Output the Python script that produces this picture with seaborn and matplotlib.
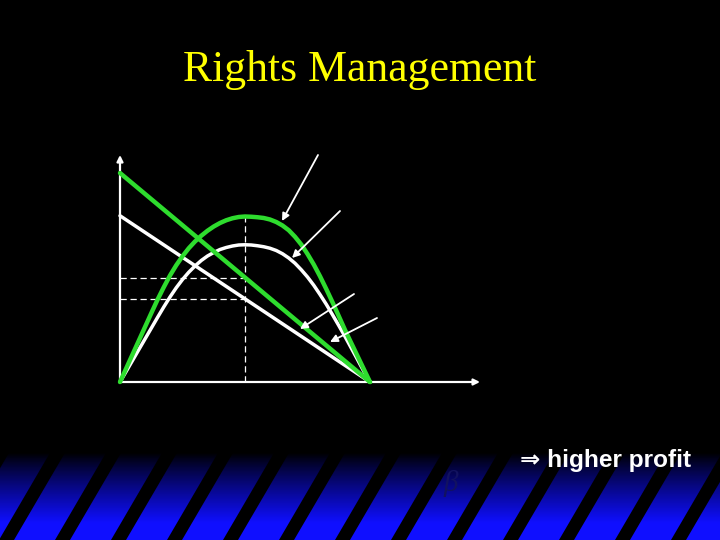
import matplotlib
matplotlib.use('Agg')
import matplotlib.pyplot as plt
import numpy as np
import pandas as pd
import seaborn as sns
from matplotlib.patches import Polygon

# quantity axis and the two profit curves (chart units)
q = [0, 0.25, 0.5, 0.75, 1, 1.25, 1.5, 1.75, 2, 2.25, 2.5, 2.75, 3, 3.25, 3.5, 3.75,
     4, 4.25, 4.5, 4.75, 5, 5.25, 5.5, 5.75, 6, 6.25, 6.5, 6.75, 7, 7.25, 7.5, 7.75,
     8, 8.25, 8.5, 8.75, 9, 9.25, 9.5, 9.75, 10]
profit_green = [0, 0.55, 1.10, 1.65, 2.20, 2.75, 3.29, 3.79, 4.26, 4.67, 5.03, 5.35, 5.62,
                5.85, 6.05, 6.22, 6.36, 6.47, 6.55, 6.60, 6.62, 6.61, 6.59, 6.56, 6.50, 6.40,
                6.26, 6.07, 5.81, 5.50, 5.12, 4.70, 4.23, 3.72, 3.19, 2.64, 2.08, 1.56, 1.04,
                0.52, 0]
profit_white = [0, 0.43, 0.86, 1.29, 1.72, 2.15, 2.58, 3.00, 3.40, 3.77, 4.10, 4.39, 4.64,
                4.86, 5.04, 5.18, 5.30, 5.38, 5.44, 5.48, 5.49, 5.48, 5.45, 5.41, 5.35, 5.26,
                5.13, 4.96, 4.75, 4.49, 4.20, 3.87, 3.50, 3.11, 2.69, 2.26, 1.82, 1.36, 0.90,
                0.43, 0]

# straight demand lines
demand_q = [0, 10]
demand_green = [8.36, 0]
demand_white = [6.65, 0]

# optimum and the matching price levels
q_star = 5.0
price_green = 4.18
price_white = 3.33
peak_green = 6.64

# axis extents
x_axis_end = 14.4
y_axis_end = 9.08

# pointer arrows (tail -> head)
arrow_x0 = [7.92, 8.8, 9.36, 10.28]
arrow_y0 = [9.08, 6.84, 3.52, 2.56]
arrow_x1 = [6.48, 6.88, 7.2, 8.4]
arrow_y1 = [6.44, 4.96, 2.12, 1.6]

title = 'Rights Management'
note = '\u21d2 higher profit'

GREEN = '#2edc2e'

sns.set_style('dark')
plt.rcParams['font.family'] = ['Liberation Sans', 'DejaVu Sans']

fig = plt.figure(figsize=(7.2, 5.4), dpi=100, facecolor='black')

# background: black with a blue striped band at the bottom
bg = fig.add_axes([0, 0, 1, 1], zorder=0)
bg.set_xlim(0, 720)
bg.set_ylim(540, 0)
bg.axis('off')
yy = np.linspace(450, 540, 200)
t = np.clip((yy - 453) / 70.0, 0, 1)
grad = np.zeros((len(yy), 2, 3))
grad[:, :, 2] = (t ** 0.9)[:, None]
grad[:, :, 0] = (0.06 * t)[:, None]
grad[:, :, 1] = (0.06 * t)[:, None]
bg.imshow(grad, extent=(0, 720, 540, 450), aspect='auto', interpolation='bilinear')
for k in range(-1, 15):
    xb = -1 + 56 * k      # left edge at the bottom of the band
    shift = 90 * 0.585
    pts = [(xb + shift, 450), (xb + 15 + shift, 450), (xb + 15, 540), (xb, 540)]
    bg.add_patch(Polygon(pts, closed=True, facecolor='black', edgecolor='none'))

# main chart in chart units
ax = fig.add_axes([0, 0, 1, 1], zorder=1)
ax.set_xlim(-4.8, 24)
ax.set_ylim(-6.32, 15.28)

# axes with arrow heads
ax.annotate('', xy=(x_axis_end, 0), xytext=(0, 0),
            arrowprops=dict(arrowstyle='-|>', color='white', lw=1.6, mutation_scale=9,
                            shrinkA=0, shrinkB=0))
ax.annotate('', xy=(0, y_axis_end), xytext=(0, 0),
            arrowprops=dict(arrowstyle='-|>', color='white', lw=1.6, mutation_scale=9,
                            shrinkA=0, shrinkB=0))

# dashed guides
ax.plot([q_star, q_star], [0, peak_green], color='white', lw=0.9, ls=(0, (5, 3)))
ax.plot([0, q_star], [price_green, price_green], color='white', lw=0.9, ls=(0, (5, 3)))
ax.plot([0, q_star], [price_white, price_white], color='white', lw=0.9, ls=(0, (5, 3)))

df = pd.DataFrame({'q': q, 'green': profit_green, 'white': profit_white})
sns.lineplot(data=df, x='q', y='white', ax=ax, color='white', lw=2.5, zorder=3,
             solid_joinstyle='round')
sns.lineplot(x=demand_q, y=demand_white, ax=ax, color='white', lw=2.5, zorder=3)
sns.lineplot(data=df, x='q', y='green', ax=ax, color=GREEN, lw=3.2, zorder=4,
             solid_joinstyle='round')
sns.lineplot(x=demand_q, y=demand_green, ax=ax, color=GREEN, lw=3.2, zorder=4)
ax.set_xlim(-4.8, 24)
ax.set_ylim(-6.32, 15.28)
ax.axis('off')

for x0, y0, x1, y1 in zip(arrow_x0, arrow_y0, arrow_x1, arrow_y1):
    ax.annotate('', xy=(x1, y1), xytext=(x0, y0),
                arrowprops=dict(arrowstyle='-|>', color='white', lw=1.3, mutation_scale=11,
                                shrinkA=0, shrinkB=0), zorder=5)

fig.text(0.5, 1 - 81 / 540, title, ha='center', va='baseline', fontsize=31.5,
         color='#ffff00', family=['Liberation Serif', 'DejaVu Serif'])
fig.text(520 / 720, 1 - 467 / 540, note, ha='left', va='baseline', fontsize=17.6,
         weight='bold', color='white')
fig.text(443 / 720, 1 - 491 / 540, '\u03b2', ha='left', va='baseline', fontsize=21,
         style='italic', color='#121260', family=['Liberation Serif', 'DejaVu Serif'])

fig.savefig('out.png', dpi=100, facecolor='black')
